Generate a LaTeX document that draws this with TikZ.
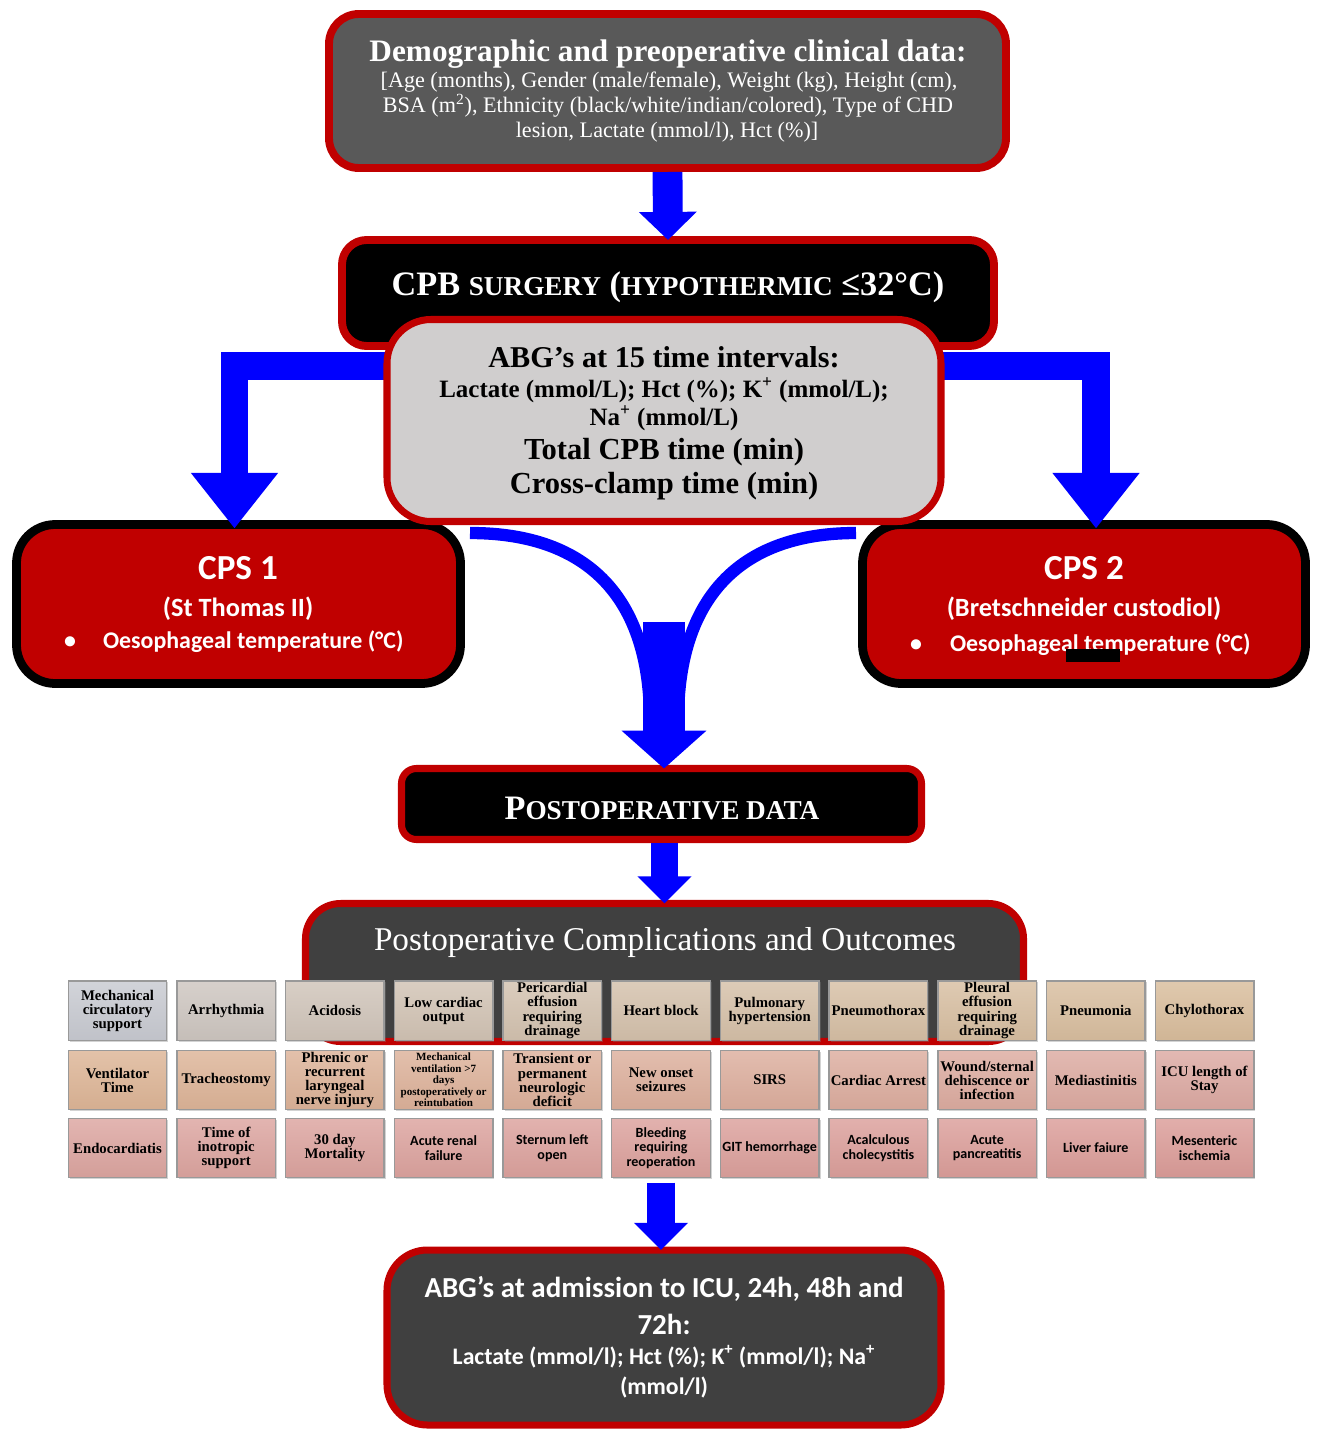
\documentclass[tikz,border=0pt]{standalone}
\usepackage{fontspec}
\setmainfont{Liberation Serif}
\newfontfamily\carl{Carlito}
\usetikzlibrary{fit,calc,arrows.meta,shadows}
\definecolor{redb}{HTML}{C00000}
\definecolor{topgray}{HTML}{595959}
\definecolor{abggray}{HTML}{D0CECE}
\definecolor{dgray}{HTML}{404040}
\definecolor{ablue}{HTML}{0000FF}
\definecolor{r1s}{HTML}{C8CAD1}
\definecolor{r1e}{HTML}{D9BD9C}
\definecolor{r2s}{HTML}{DDB596}
\definecolor{r2e}{HTML}{DCA9A2}
\definecolor{r3s}{HTML}{DCA5A0}
\definecolor{r3e}{HTML}{DB9C98}
\newcommand\bigc{\fontsize{19.5pt}{22pt}\selectfont}
\newcommand\smlc{\fontsize{15.5pt}{18pt}\selectfont}
\newcommand\gser{\fontsize{8.4pt}{8pt}\selectfont\bfseries}
\newcommand\gsan{\carl\fontsize{8pt}{8.2pt}\selectfont\bfseries}
\newcommand\gtiny{\fontsize{6.3pt}{6.5pt}\selectfont\bfseries}
\newcommand\gbox[4]{%
  \pgfmathsetmacro\gx{117.5+(#2-1)*108.7}%
  \pgfmathsetmacro\gy{(#1==1)?1010.5:((#1==2)?1080:1148)}%
  \pgfmathtruncatemacro\gp{(#1==1)?(100-100*sqrt((#2-1)/10)):(100-10*(#2-1))}%
  \colorlet{gc}{r#1s!\gp!r#1e}%
  \node[gridbox, font=#3, top color=gc!82!white, bottom color=gc!96!black] (g#1-#2) at (\gx,\gy) {#4};%
}
\begin{document}
\begin{tikzpicture}[x=0.02cm, y=-0.02cm,
  every node/.style={inner sep=0pt, outer sep=0pt},
  redframe/.style={draw=redb, line width=4.5pt},
  wtxt/.style={text=white, anchor=base},
  btxt/.style={text=black, anchor=base},
  dnarrow/.style={draw=ablue, line width=17pt, -{Triangle[width=32pt,length=16pt]}},
  dnarrowb/.style={draw=ablue, line width=15.9pt, -{Triangle[width=30pt,length=15.5pt]}},
  elbow/.style={draw=ablue, line width=15.9pt, line join=miter, -{Triangle[width=47.6pt,length=31.7pt]}},
  central/.style={draw=ablue, line width=23.8pt, -{Triangle[width=47pt,length=21.5pt]}},
  curvy/.style={draw=ablue, line width=7pt},
  gridbox/.style={draw=black!40, line width=0.8pt, minimum width=56.1pt, minimum height=33.8pt, align=center, text=black,
    drop shadow={shadow xshift=0.9pt, shadow yshift=-0.9pt, opacity=0.35}},
]
\useasboundingbox (0,0) rectangle (1317,1430);

% top box
\node[fit={(329,14) (1006,168)}, redframe, fill=topgray, rounded corners=17pt] (top) {};
\node[wtxt, font=\fontsize{17.8pt}{20pt}\selectfont\bfseries] (t1) at (668,61) {Demographic and preoperative clinical data:};
\node[wtxt, font=\fontsize{12.6pt}{14pt}\selectfont] (t2) at (669,87) {[Age (months), Gender (male/female), Weight (kg), Height (cm),};
\node[wtxt, font=\fontsize{12.6pt}{14pt}\selectfont] (t3) at (668,112) {BSA (m\textsuperscript{2}), Ethnicity (black/white/indian/colored), Type of CHD};
\node[wtxt, font=\fontsize{12.6pt}{14pt}\selectfont] (t4) at (667,137) {lesion, Lactate (mmol/l), Hct (\%)]};

% CPS boxes
\node[fit={(16.5,524.5) (460.5,683.5)}, draw=black, line width=5pt, fill=redb, rounded corners=22pt] (cps1) {};
\node[wtxt, font=\carl\fontsize{20pt}{22pt}\selectfont\bfseries] (c1a) at (238,579) {CPS 1};
\node[wtxt, font=\carl\fontsize{15pt}{17pt}\selectfont\bfseries] (c1b) at (238,616) {(St Thomas II)};
\node[wtxt, font=\carl\fontsize{13.6pt}{15pt}\selectfont\bfseries] (c1d) at (70,648) {•};
\node[wtxt, anchor=base west, font=\carl\fontsize{13.6pt}{15pt}\selectfont\bfseries] (c1c) at (103,648) {Oesophageal temperature (°C)};

\node[fit={(862.5,524.5) (1305.5,683.5)}, draw=black, line width=5pt, fill=redb, rounded corners=22pt] (cps2) {};
\node[wtxt, font=\carl\fontsize{20pt}{22pt}\selectfont\bfseries] (c2a) at (1084,579) {CPS 2};
\node[wtxt, font=\carl\fontsize{15pt}{17pt}\selectfont\bfseries] (c2b) at (1084,616) {(Bretschneider custodiol)};
\node[wtxt, font=\carl\fontsize{13.6pt}{15pt}\selectfont\bfseries] (c2d) at (916,651) {•};
\node[wtxt, anchor=base west, font=\carl\fontsize{13.6pt}{15pt}\selectfont\bfseries] (c2c) at (950,651) {Oesophageal temperature (°C)};
\node[fit={(1066,649) (1120,662)}, fill=black] (blot) {};

% elbow arrows
\coordinate (eL) at (400,366);
\coordinate (eR) at (930,366);
\draw[elbow] (eL) -| ($(cps1.north)+(-4,4)$);
\draw[elbow] (eR) -| ($(cps2.north)+(12,4)$);

% CPB box
\node[fit={(342,240) (994,346)}, redframe, fill=black, rounded corners=14pt] (cpb) {};
\node[wtxt, font=\bfseries] (cpbt) at (668,295) {{\bigc CPB }{\smlc SURGERY}{\bigc{} (}{\smlc HYPOTHERMIC}{\bigc{} ≤32°C)}};
\draw[dnarrow] ($(top.south)+(0,4)$) -- (cpb.north);

% ABG box
\node[fit={(387,319.5) (941,521.5)}, draw=redb, line width=4pt, fill=abggray, rounded corners=25pt] (abg) {};
\node[btxt, font=\fontsize{17.2pt}{19pt}\selectfont\bfseries] (a1) at (664,367) {ABG’s at 15 time intervals:};
\node[btxt, font=\fontsize{14.2pt}{16pt}\selectfont\bfseries] (a2) at (664,397) {Lactate (mmol/L); Hct (\%); K\textsuperscript{+} (mmol/L);};
\node[btxt, font=\fontsize{14.2pt}{16pt}\selectfont\bfseries] (a3) at (664,425) {Na\textsuperscript{+} (mmol/L)};
\node[btxt, font=\fontsize{17.4pt}{19pt}\selectfont\bfseries] (a4) at (664,459) {Total CPB time (min)};
\node[btxt, font=\fontsize{17.4pt}{19pt}\selectfont\bfseries] (a5) at (664,493) {Cross-clamp time (min)};

% postoperative data
\node[fit={(401.5,768.5) (921.5,839.5)}, draw=redb, line width=4pt, fill=black, rounded corners=8.5pt] (postop) {};
\node[wtxt, font=\bfseries] (pt) at (662,819) {{\bigc P}{\smlc OSTOPERATIVE DATA}};

% curves and central arrow
\coordinate (cL) at (470,533);
\coordinate (cR) at (856,533);
\coordinate (mL) at (650,720);
\coordinate (mR) at (678,720);
\coordinate (mid) at (664,622);
\draw[curvy] (cL) .. controls (590,533) and (650,600) .. (mL);
\draw[curvy] (cR) .. controls (738,533) and (678,600) .. (mR);
\draw[central] (mid) -- (mid |- postop.north);

% complications box
\node[fit={(305.5,903.5) (1023.5,1041.5)}, draw=redb, line width=4pt, fill=dgray, rounded corners=20pt] (comp) {};
\node[wtxt, font=\fontsize{18.9pt}{21pt}\selectfont] (ct) at (665,950) {Postoperative Complications and Outcomes};
\draw[dnarrowb] ($(postop.south -| comp.north)+(0,3.5)$) -- (comp.north);

% grid
\gbox{1}{1}{\gser}{Mechanical\\circulatory\\support}
\gbox{1}{2}{\gser}{Arrhythmia}
\gbox{1}{3}{\gser}{Acidosis}
\gbox{1}{4}{\gser}{Low cardiac\\output}
\gbox{1}{5}{\gser}{Pericardial\\effusion\\requiring\\drainage}
\gbox{1}{6}{\gser}{Heart block}
\gbox{1}{7}{\gser}{Pulmonary\\hypertension}
\gbox{1}{8}{\gser}{Pneumothorax}
\gbox{1}{9}{\gser}{Pleural\\effusion\\requiring\\drainage}
\gbox{1}{10}{\gser}{Pneumonia}
\gbox{1}{11}{\gser}{Chylothorax}
\gbox{2}{1}{\gser}{Ventilator\\Time}
\gbox{2}{2}{\gser}{Tracheostomy}
\gbox{2}{3}{\gser}{Phrenic or\\recurrent\\laryngeal\\nerve injury}
\gbox{2}{4}{\gtiny}{Mechanical\\ventilation >7\\days\\postoperatively or\\reintubation}
\gbox{2}{5}{\gser}{Transient or\\permanent\\neurologic\\deficit}
\gbox{2}{6}{\gser}{New onset\\seizures}
\gbox{2}{7}{\gser}{SIRS}
\gbox{2}{8}{\gser}{Cardiac Arrest}
\gbox{2}{9}{\gser}{Wound/sternal\\dehiscence or\\infection}
\gbox{2}{10}{\gser}{Mediastinitis}
\gbox{2}{11}{\gser}{ICU length of\\Stay}
\gbox{3}{1}{\gser}{Endocardiatis}
\gbox{3}{2}{\gser}{Time of\\inotropic\\support}
\gbox{3}{3}{\gser}{30 day\\Mortality}
\gbox{3}{4}{\gsan}{Acute renal\\failure}
\gbox{3}{5}{\gsan}{Sternum left\\open}
\gbox{3}{6}{\gsan}{Bleeding\\requiring\\reoperation}
\gbox{3}{7}{\gsan}{GIT hemorrhage}
\gbox{3}{8}{\gsan}{Acalculous\\cholecystitis}
\gbox{3}{9}{\gsan}{Acute\\pancreatitis}
\gbox{3}{10}{\gsan}{Liver faiure}
\gbox{3}{11}{\gsan}{Mesenteric\\ischemia}

% bottom box
\node[fit={(387,1250) (941,1425)}, draw=redb, line width=4pt, fill=dgray, rounded corners=23pt] (bottom) {};
\node[wtxt, font=\carl\fontsize{16.5pt}{18pt}\selectfont\bfseries] (b1) at (664,1297) {ABG’s at admission to ICU, 24h, 48h and};
\node[wtxt, font=\carl\fontsize{16.5pt}{18pt}\selectfont\bfseries] (b2) at (664,1334) {72h:};
\node[wtxt, font=\carl\fontsize{13.5pt}{15pt}\selectfont\bfseries] (b3) at (664,1364) {Lactate (mmol/l); Hct (\%); K\textsuperscript{+} (mmol/l); Na\textsuperscript{+}};
\node[wtxt, font=\carl\fontsize{13.5pt}{15pt}\selectfont\bfseries] (b4) at (664,1394) {(mmol/l)};
\draw[dnarrowb] ($(g3-6.south)+(0,5)$) -- (g3-6.south |- bottom.north);
\end{tikzpicture}
\end{document}
